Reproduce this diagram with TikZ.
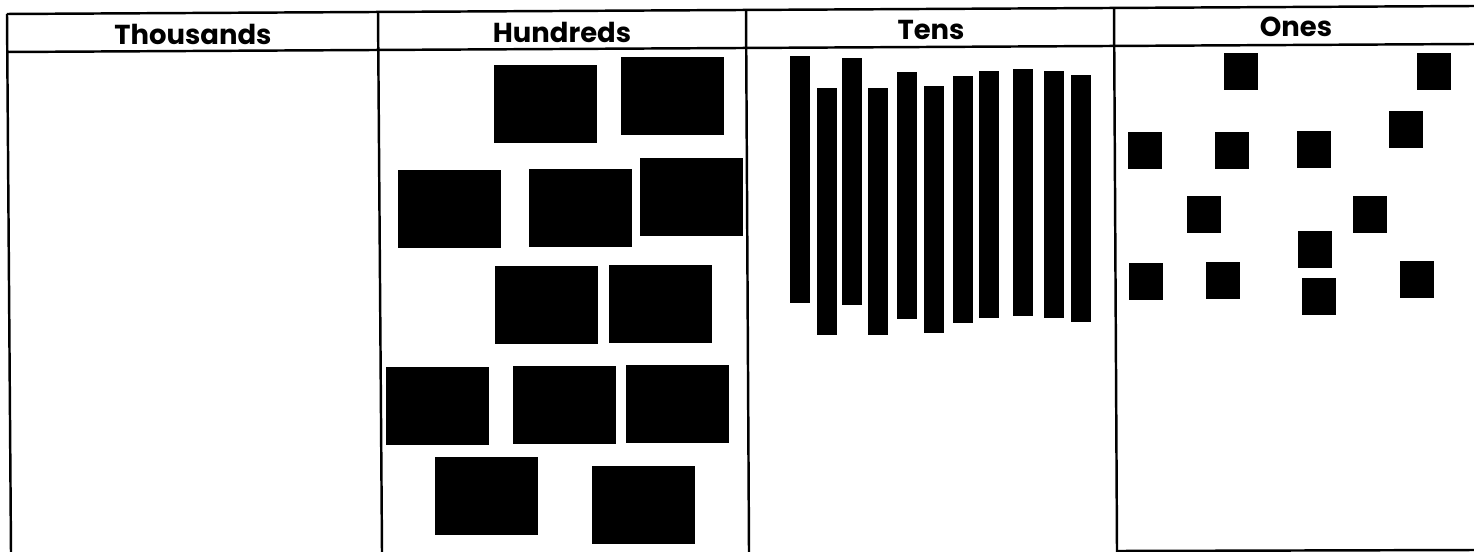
\documentclass[tikz,border=0pt]{standalone}
\usepackage{fontspec}
\setmainfont{Poppins}
\usetikzlibrary{positioning}

\begin{document}
\begin{tikzpicture}[
    x=0.01cm, y=-0.01cm,
    rule/.style={line width=0.7pt},
    heading/.style={font=\bfseries\fontsize{7.8}{9}\selectfont, inner sep=0pt},
    block/.style={fill=black},
]
    \useasboundingbox (0,0) rectangle (1474,552);

    % table frame (scan is a little skewed)
    \draw[rule] (7,14) -- (1474,6);
    \draw[rule] (7,52) -- (1474,44);
    \draw[rule] (7,14) -- (11,552);
    \draw[rule] (378,12) -- (382,552);
    \draw[rule] (746,10) -- (749,552);
    \draw[rule] (1114,8) -- (1117,552);
    \draw[rule] (1117,551) -- (1474,550);

    % column headings
    \node[heading] (thousands) at (193,34) {Thousands};
    \node[heading] (hundreds) at (562,32) {Hundreds};
    \node[heading] (tens) at (931,30) {Tens};
    \node[heading] (ones) at (1296,27) {Ones};

    % hundreds flats
    \foreach \x/\y in {494/65, 621/57, 398/170, 529/169, 640/158, 495/266,
                       609/265, 386/367, 513/366, 626/365, 435/457, 592/466}
        \fill[block] (\x,\y) rectangle +(103,78);

    % tens rods
    \foreach \x/\y in {790/56, 817/88, 842/58, 868/88, 897/72, 924/86,
                       953/76, 979/71, 1013/69, 1044/71, 1071/75}
        \fill[block] (\x,\y) rectangle +(20,247);

    % ones cubes
    \foreach \x/\y in {1224/53, 1417/53, 1389/111, 1128/132, 1215/132, 1297/131, 1187/196,
                       1353/196, 1298/231, 1129/263, 1206/262, 1302/278, 1400/261}
        \fill[block] (\x,\y) rectangle +(34,37);
\end{tikzpicture}
\end{document}
